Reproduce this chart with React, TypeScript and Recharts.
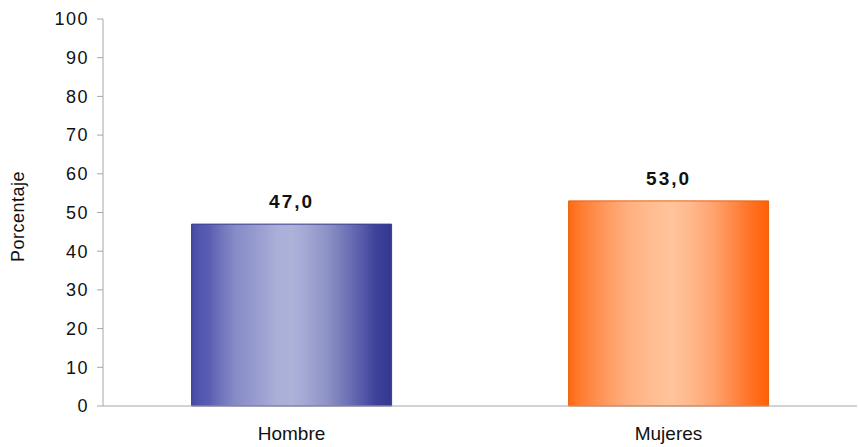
import { Bar, BarChart, Cell, LabelList, XAxis, YAxis } from 'recharts'

const categories = ['Hombre', 'Mujeres']
const porcentajes = [47.0, 53.0]
const yTicks = [0, 10, 20, 30, 40, 50, 60, 70, 80, 90, 100]

const data = categories.map((name, i) => ({ name, value: porcentajes[i] }))

const font = '"Liberation Sans", Arial, sans-serif'
const axisColor = '#a6a6a6'

// soft vertical stripes like the old Excel fill
const blueStripes: [number, string][] = [
  [0, '#464aa4'], [4, '#5156ae'], [9, '#5a5eb2'], [14, '#6e72bb'], [22, '#878bc7'], [32, '#979bcf'],
  [42, '#a9add8'], [50, '#aeb2da'], [58, '#a2a6d3'], [68, '#8d91c5'], [78, '#6e72b6'],
  [86, '#5458a8'], [92, '#3e429b'], [100, '#33378f'],
]
const orangeStripes: [number, string][] = [
  [0, '#ff6810'], [5, '#ff7a2e'], [12, '#ff8a48'], [20, '#ff9c62'], [30, '#ffb080'],
  [42, '#ffbd92'], [52, '#ffc49c'], [62, '#ffb68a'], [72, '#ffa46e'], [82, '#ff8a4a'],
  [90, '#ff7428'], [100, '#ff6006'],
]

function Stripes({ id, stops }: { id: string; stops: [number, string][] }) {
  return (
    <linearGradient id={id} x1='0' y1='0' x2='1' y2='0'>
      {stops.map(([p, c]) => (
        <stop key={p} offset={`${p}%`} stopColor={c} />
      ))}
    </linearGradient>
  )
}

const fills = ['url(#blue)', 'url(#orange)']
const strokes = ['#3a3e8c', '#e8600e']

export default function App() {
  return (
    <div style={{ position: 'absolute', left: 0, top: 0 }}>
      <BarChart
        width={858}
        height={447}
        data={data}
        margin={{ top: 19, right: 1, bottom: 11, left: 13 }}
        barCategoryGap='23.5%'
      >
        <defs>
          <Stripes id='blue' stops={blueStripes} />
          <Stripes id='orange' stops={orangeStripes} />
        </defs>
        <XAxis
          dataKey='name'
          height={30}
          stroke={axisColor}
          tickLine={false}
          tickSize={0}
          tickMargin={21}
          tick={{ fill: '#111', fontSize: 19, fontFamily: font }}
        />
        <XAxis
          xAxisId='sep'
          type='number'
          domain={[0, 2]}
          ticks={[1]}
          height={0}
          axisLine={false}
          tick={false}
          tickSize={5}
          tickLine={{ stroke: axisColor }}
        />
        <YAxis
          width={90}
          domain={[0, 100]}
          ticks={yTicks}
          interval={0}
          stroke={axisColor}
          tickSize={6}
          tickMargin={8}
          tick={{ fill: '#111', fontSize: 18, fontFamily: font, letterSpacing: 1.5 }}
          label={{
            value: 'Porcentaje',
            angle: -90,
            position: 'insideLeft',
            offset: 5,
            dy: 4,
            style: { fill: '#111', fontSize: 18, fontFamily: font, textAnchor: 'middle', letterSpacing: 0.5 },
          }}
        />
        <Bar dataKey='value' isAnimationActive={false} strokeWidth={1}>
          {data.map((d, i) => (
            <Cell key={d.name} fill={fills[i]} stroke={strokes[i]} />
          ))}
          <LabelList
            dataKey='value'
            position='top'
            offset={16}
            formatter={(v: any) => Number(v).toFixed(1).replace('.', ',')}
            style={{ fill: '#111', fontSize: 19, fontWeight: 'bold', fontFamily: font, letterSpacing: 2 }}
          />
        </Bar>
      </BarChart>
    </div>
  )
}
